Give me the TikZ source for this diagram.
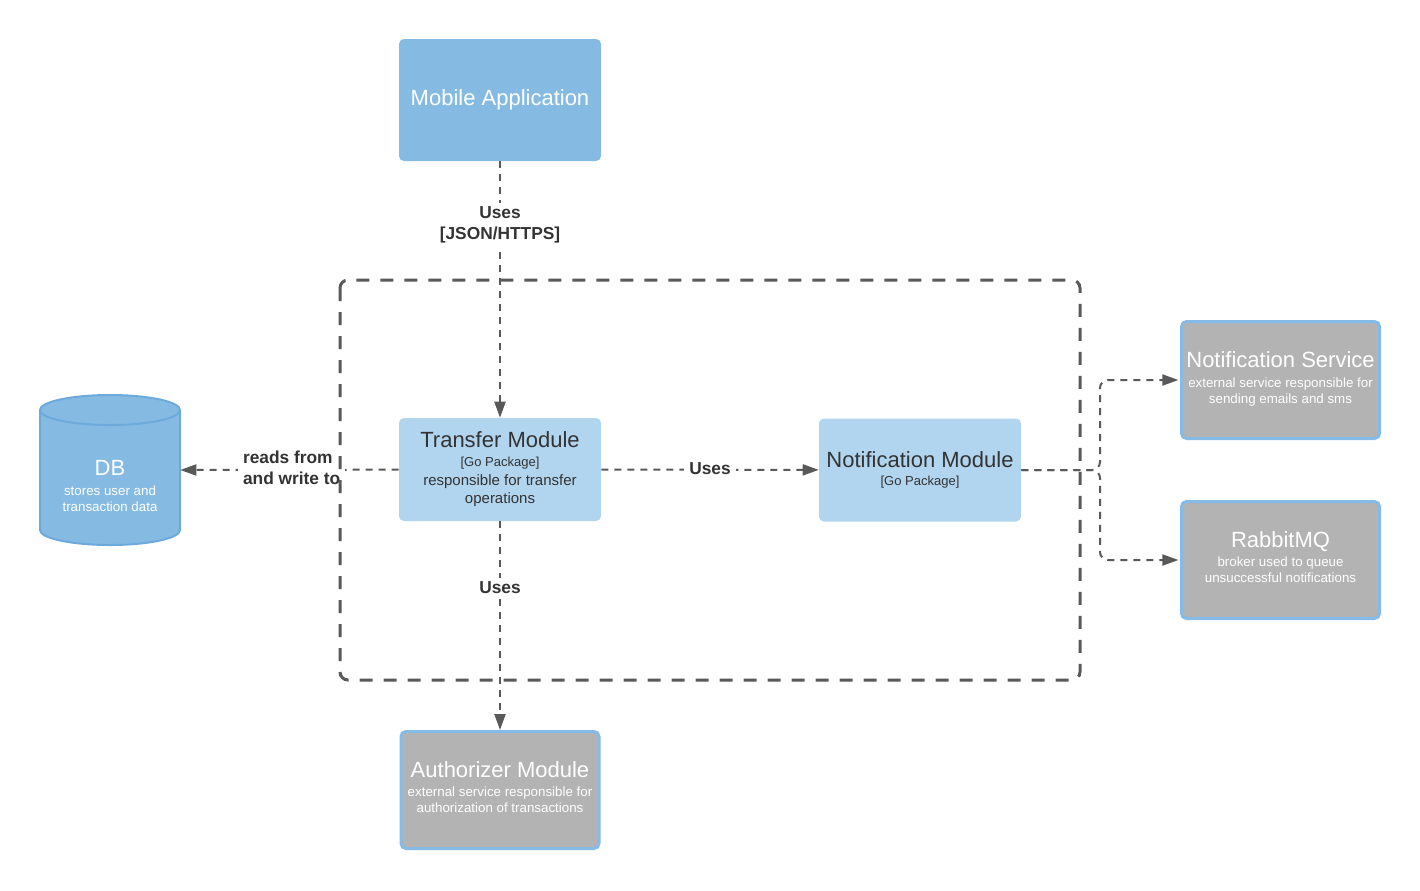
\documentclass[tikz,border=0pt]{standalone}
\usepackage{fontspec}
\setmainfont{Liberation Sans}
\usetikzlibrary{arrows.meta}

\definecolor{appblue}{HTML}{85BBE3}
\definecolor{modblue}{HTML}{B1D5EF}
\definecolor{extgray}{HTML}{B3B3B3}
\definecolor{extedge}{HTML}{85BBE8}
\definecolor{linegray}{HTML}{595959}
\definecolor{inktext}{HTML}{333333}
\definecolor{dbedge}{HTML}{6DAADB}

\newcommand\boxtitle{\fontsize{16.5}{19}\selectfont}
\newcommand\boxnote{\fontsize{10}{12}\selectfont}
\newcommand\boxpkg{\fontsize{9.75}{12}\selectfont}
\newcommand\boxdesc{\fontsize{11.25}{14}\selectfont}

\tikzset{
  box/.style={rectangle, rounded corners=3.75pt, minimum width=151.5pt,
    inner sep=0pt, align=center},
  appbox/.style={box, fill=appblue, text=white, minimum height=91.5pt,
    font=\boxtitle},
  modbox/.style={box, fill=modblue, text=inktext, minimum height=77.25pt,
    font=\boxdesc},
  extbox/.style={box, fill=extgray, draw=extedge, line width=2.25pt,
    minimum width=148.5pt, minimum height=87.75pt},
  exttext/.style={text=white, align=center, font=\boxnote, inner sep=0pt},
  conn/.style={draw=linegray, line width=1.5pt,
    dash pattern=on 5.25pt off 4.5pt,
    -{Triangle[length=12pt,width=8.25pt]}},
  connlabel/.style={fill=white, text=inktext, inner xsep=3.75pt,
    inner ysep=2.5pt, font=\bfseries\fontsize{13}{16}\selectfont},
  boundary/.style={draw=linegray, line width=2.25pt,
    dash pattern=on 9.75pt off 8.25pt, rounded corners=6pt}
}

\begin{document}
\begin{tikzpicture}[x=0.75pt,y=-0.75pt]
  \useasboundingbox (0,0) rectangle (1420,890);

  % containers
  \node[appbox] (mobile) at (500,100) {\raisebox{1pt}{Mobile Application}};
  \node[modbox] (transfer) at (500,469.5)
    {{\boxtitle Transfer Module}\\{\boxpkg [Go Package]}\\responsible for transfer\\operations};
  \node[modbox] (notif) at (920,470)
    {{\boxtitle Notification Module}\\{\boxpkg [Go Package]}};

  % external systems
  \node[extbox] (nsvc) at (1280.5,380) {};
  \node[exttext] (nsvctext) at (1280.5,379)
    {{\boxtitle Notification Service}\\[2.8pt]external service responsible for\\sending emails and sms};
  \node[extbox] (rabbit) at (1280.5,560) {};
  \node[exttext] (rabbittext) at (1280.5,557)
    {{\boxtitle RabbitMQ}\\[2.8pt]broker used to queue\\unsuccessful notifications};
  \node[extbox] (auth) at (500,790) {};
  \node[exttext] (authtext) at (500,787)
    {{\boxtitle Authorizer Module}\\[2.8pt]external service responsible for\\authorization of transactions};

  % database cylinder
  \fill[appblue] (40,410) -- (40,530)
    arc[start angle=180, end angle=0, x radius=70, y radius=15]
    -- (180,410)
    arc[start angle=0, end angle=-180, x radius=70, y radius=15] -- cycle;
  \draw[dbedge, line width=1.5pt] (40,410) -- (40,530)
    arc[start angle=180, end angle=0, x radius=70, y radius=15]
    -- (180,410);
  \draw[dbedge, line width=1.5pt] (110,410) ellipse[x radius=70, y radius=15];
  \node[rectangle, minimum width=105pt, minimum height=112.5pt, inner sep=0pt]
    (db) at (110,470) {};
  \node[exttext] (dbtext) at (110,486)
    {{\boxtitle DB}\\[2.8pt]stores user and\\transaction data};

  % relationships
  \draw[conn] (mobile) -- node[connlabel, pos=0.249, align=center] (lblmobile)
    {Uses\\{}[JSON/HTTPS]} (transfer);
  \draw[conn] (transfer) -- node[connlabel, pos=0.49, yshift=1.5pt, align=left] (lbldb)
    {reads from\\and write to} (db.east);
  \draw[conn] (transfer) -- node[connlabel, pos=0.5, yshift=1.2pt] (lblnotif) {Uses} (notif);
  \draw[conn] (transfer) -- node[connlabel, pos=0.317] (lblauth) {Uses} (auth);
  \draw[conn, rounded corners=6pt, shorten >=1.2pt]
    (notif.east) -- (1100,470) -- (1100,380) -- (nsvc.west);
  \draw[conn, rounded corners=6pt, shorten >=1.2pt]
    (notif.east) -- (1100,470) -- (1100,560) -- (rabbit.west);

  % system boundary
  \draw[boundary] (340,280) rectangle (1080,680);
\end{tikzpicture}
\end{document}
